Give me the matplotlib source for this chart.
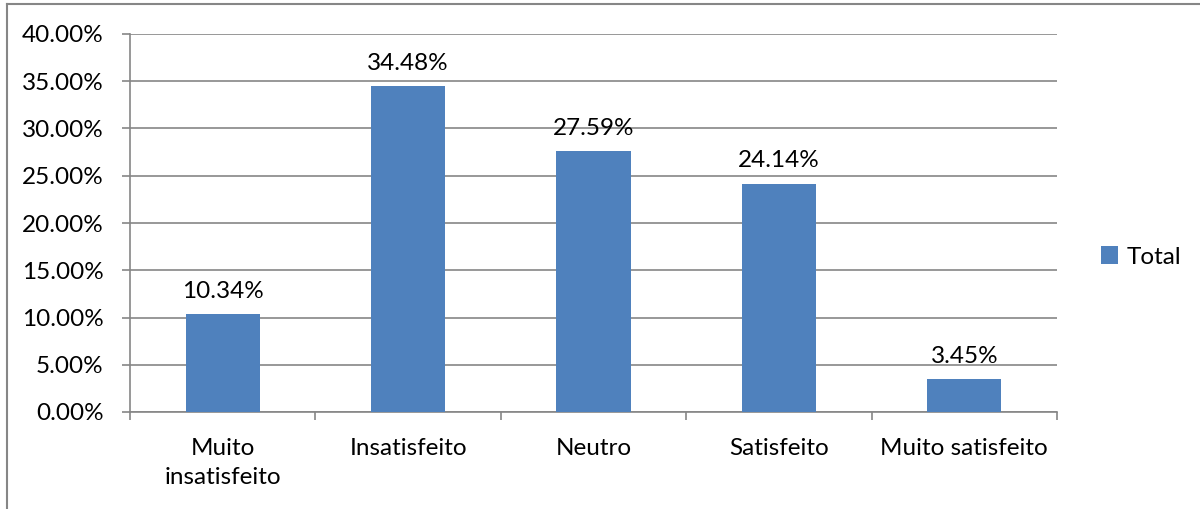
import matplotlib
matplotlib.use("Agg")
import matplotlib.pyplot as plt
from matplotlib.lines import Line2D
from matplotlib.patches import Patch
from matplotlib.ticker import MultipleLocator, FuncFormatter

categories = ["Muito\ninsatisfeito", "Insatisfeito", "Neutro", "Satisfeito", "Muito satisfeito"]
values = [10.34, 34.48, 27.59, 24.14, 3.45]
series_name = "Total"

bar_color = "#4F81BD"
grid_color = "#868686"
fs = 17.5

plt.rcParams["font.family"] = ["Lato", "DejaVu Sans"]

fig = plt.figure(figsize=(12, 5.09), dpi=100)
ax = fig.add_axes([130 / 1200, 1 - 412 / 509, 927 / 1200, 378 / 509])

x = list(range(len(categories)))
bars = ax.bar(x, values, width=0.4, color=bar_color, zorder=3)

ax.set_xlim(-0.5, len(categories) - 0.5)
ax.set_ylim(0, 40)
ax.yaxis.set_major_locator(MultipleLocator(5))
ax.yaxis.set_major_formatter(FuncFormatter(lambda v, _: f"{v:.2f}%"))
ax.grid(axis="y", color=grid_color, linewidth=1.2, zorder=0)

for s in ["top", "right"]:
    ax.spines[s].set_visible(False)
for s in ["left", "bottom"]:
    ax.spines[s].set_color(grid_color)
    ax.spines[s].set_linewidth(1.2)

ax.set_xticks(x)
ax.set_xticklabels(categories, fontsize=fs, color="#000000", linespacing=1.43)
ax.tick_params(axis="x", length=0, pad=19)
ax.set_xticks([i - 0.5 for i in range(len(categories) + 1)], minor=True)
ax.tick_params(axis="x", which="minor", length=6, color=grid_color, width=1.2)
ax.tick_params(axis="y", length=6, color=grid_color, width=1.2, labelsize=fs, pad=13)

for b, v in zip(bars, values):
    ax.annotate(f"{v:.2f}%", (b.get_x() + b.get_width() / 2, v),
                xytext=(0, 9), textcoords="offset points",
                ha="center", va="bottom", fontsize=fs)

handle = Patch(facecolor=bar_color, edgecolor="none")
fig.legend([handle], [series_name], loc="center left",
           bbox_to_anchor=(1079 / 1200, 1 - 257 / 509), frameon=False,
           fontsize=fs, handlelength=0.7, handleheight=0.7, handletextpad=0.35)

# outer chart-area border
fig.add_artist(Line2D([7 / 1200, 7 / 1200], [0, 1 - 4 / 509], transform=fig.transFigure,
                      color=grid_color, linewidth=1.5))
fig.add_artist(Line2D([7 / 1200, 1], [1 - 4 / 509, 1 - 4 / 509], transform=fig.transFigure,
                      color=grid_color, linewidth=1.5))

fig.savefig("out.png", dpi=100, facecolor="white")
